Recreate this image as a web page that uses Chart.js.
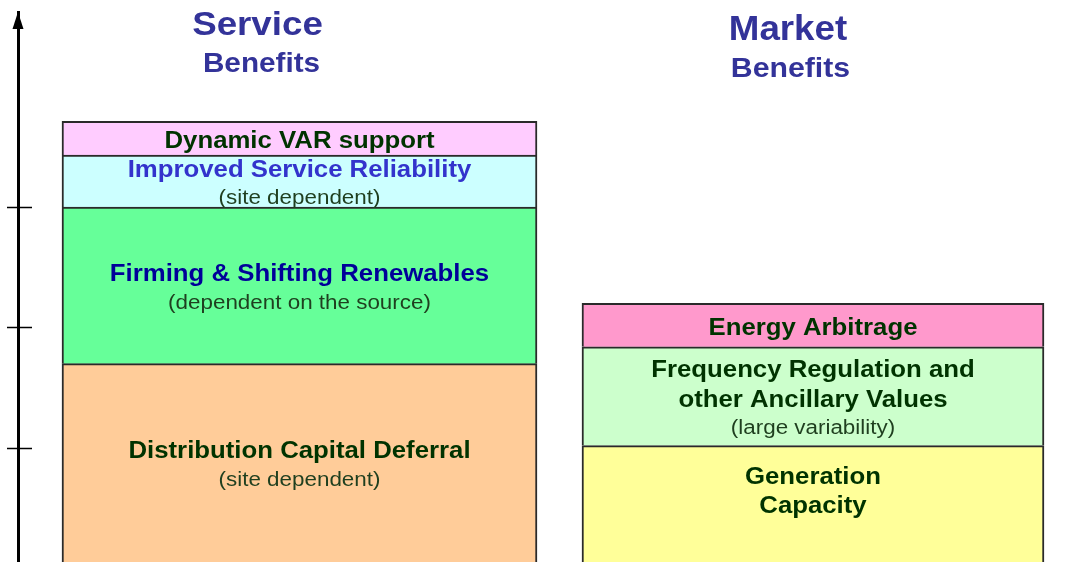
<!DOCTYPE html>
<html>
<head>
<meta charset="utf-8">
<script src="https://cdn.jsdelivr.net/npm/chart.js@4"></script>
<style>
html, body { margin: 0; padding: 0; background: #fff; overflow: hidden; }
canvas { display: block; }
</style>
</head>
<body>
<canvas id="benefitsChart" width="1082" height="562"></canvas>
<script>
// two stacks of benefit blocks (arbitrary value units)
const groupTitles = ['Service', 'Market'];
const groupSubtitles = ['Benefits', 'Benefits'];

const serviceSegments = ['Distribution Capital Deferral', 'Firming & Shifting Renewables', 'Improved Service Reliability', 'Dynamic VAR support'];
const serviceNotes = ['(site dependent)', '(dependent on the source)', '(site dependent)', ''];
const serviceValues = [1.70, 1.30, 0.43, 0.28];

const marketSegments = ['Generation\nCapacity', 'Frequency Regulation and\nother Ancillary Values', 'Energy Arbitrage'];
const marketNotes = ['', '(large variability)', ''];
const marketValues = [1.02, 0.82, 0.36];

const axisTicks = [1, 2, 3];

const serviceColors = ['#ffcc99', '#66ff99', '#ccffff', '#ffccff'];
const serviceTextColors = ['#003300', '#000099', '#3333cc', '#003300'];
const marketColors = ['#ffff99', '#ccffcc', '#ff99cc'];
const marketTextColors = ['#003300', '#003300', '#003300'];

const FONT = '"Liberation Sans", Arial, sans-serif';

function drawText(ctx, text, x, y, font, color, stretch) {
    ctx.save();
    ctx.translate(x, y);
    ctx.scale(stretch || 1.12, 1);
    ctx.font = font;
    ctx.fillStyle = color;
    ctx.textAlign = 'center';
    ctx.textBaseline = 'middle';
    ctx.fillText(text, 0, 0);
    ctx.restore();
}

const datasets = [];
serviceValues.forEach((v, i) => {
    datasets.push({
        label: serviceSegments[i],
        note: serviceNotes[i],
        data: [{ x: 0, y: v }],
        backgroundColor: serviceColors[i],
        textColor: serviceTextColors[i],
        barThickness: 475
    });
});
marketValues.forEach((v, i) => {
    datasets.push({
        label: marketSegments[i],
        note: marketNotes[i],
        data: [{ x: 1, y: v }],
        backgroundColor: marketColors[i],
        textColor: marketTextColors[i],
        barThickness: 462,
        labelShift: i === 0 ? -15 : 0
    });
});

const segmentLabels = {
    id: 'segmentLabels',
    afterDatasetsDraw(chart) {
        const ctx = chart.ctx;
        const area = chart.chartArea;
        chart.data.datasets.forEach((ds, i) => {
            const bar = chart.getDatasetMeta(i).data[0];
            if (!bar) return;
            const top = bar.y;
            const bottom = Math.min(bar.base, area.bottom);
            const cy = (top + bottom) / 2 + 3.5 + (ds.labelShift || 0);

            const lines = ds.label.split('\n').map(t => ({ text: t, bold: true }));
            if (ds.note) lines.push({ text: ds.note, bold: false });
            const offsets = [0];
            for (let k = 1; k < lines.length; k++) {
                offsets.push(offsets[k - 1] + (lines[k].bold ? 29.5 : 28.5));
            }
            const mid = offsets[offsets.length - 1] / 2;
            lines.forEach((ln, k) => {
                const y = cy - mid + offsets[k];
                if (ln.bold) {
                    drawText(ctx, ln.text, bar.x, y, 'bold 23px ' + FONT, ds.textColor);
                } else {
                    drawText(ctx, ln.text, bar.x, y, '20px ' + FONT, '#1f3f1f');
                }
            });
        });
    }
};

const axisDecor = {
    id: 'axisDecor',
    afterDraw(chart) {
        const ctx = chart.ctx;
        const y = chart.scales.y;
        const ax = chart.chartArea.left;
        ctx.save();
        ctx.strokeStyle = '#000';
        ctx.lineWidth = 1.5;
        axisTicks.forEach(t => {
            const py = Math.round(y.getPixelForValue(t)) + 0.5;
            ctx.beginPath();
            ctx.moveTo(ax - 11, py);
            ctx.lineTo(ax + 14, py);
            ctx.stroke();
        });
        // arrow head
        ctx.fillStyle = '#000';
        ctx.beginPath();
        ctx.moveTo(ax, chart.chartArea.top);
        ctx.lineTo(ax - 5.5, chart.chartArea.top + 17);
        ctx.lineTo(ax + 5.5, chart.chartArea.top + 17);
        ctx.closePath();
        ctx.fill();
        ctx.restore();
    }
};

const groupHeadings = {
    id: 'groupHeadings',
    afterDraw(chart) {
        const ctx = chart.ctx;
        const color = '#333399';
        drawText(ctx, groupTitles[0], 257.5, 26, 'bold 34px ' + FONT, color, 1.08);
        drawText(ctx, groupSubtitles[0], 261.5, 64.5, 'bold 27px ' + FONT, color, 1.1);
        drawText(ctx, groupTitles[1], 788, 30.5, 'bold 35px ' + FONT, color, 1.05);
        drawText(ctx, groupSubtitles[1], 790.5, 69.5, 'bold 27px ' + FONT, color, 1.12);
    }
};

const ctx = document.getElementById('benefitsChart').getContext('2d');
const chart = new Chart(ctx, {
    type: 'bar',
    data: { datasets: datasets },
    options: {
        responsive: false,
        animation: false,
        layout: { padding: { left: 18, top: 12, right: 0, bottom: 0 } },
        elements: {
            bar: {
                borderColor: '#2a2a2a',
                borderWidth: 2,
                borderSkipped: 'start'
            }
        },
        plugins: {
            legend: { display: false },
            tooltip: { enabled: false },
            title: { display: false }
        },
        scales: {
            x: {
                type: 'linear',
                stacked: true,
                display: false,
                offset: false,
                grid: { offset: false },
                min: -0.5482,
                max: 1.5239
            },
            y: {
                stacked: true,
                min: 0.054,
                max: 4.618,
                afterBuildTicks: scale => {
                    scale.ticks = axisTicks.map(v => ({ value: v }));
                },
                ticks: { display: false },
                grid: { drawOnChartArea: false, drawTicks: false },
                border: { display: true, color: '#000', width: 3 }
            }
        }
    },
    plugins: [segmentLabels, axisDecor, groupHeadings]
});
</script>
</body>
</html>
